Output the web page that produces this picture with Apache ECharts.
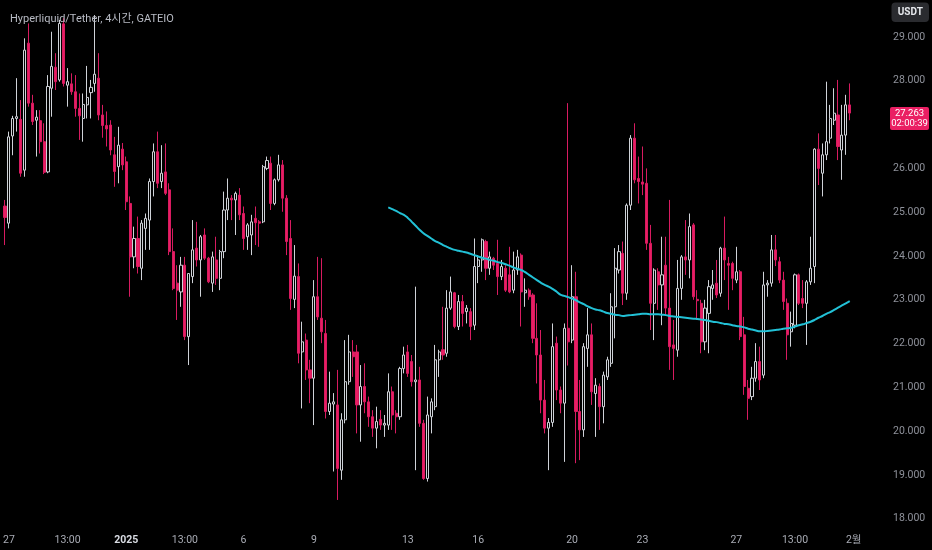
<!DOCTYPE html>
<html><head><meta charset="utf-8">
<script src="https://cdn.jsdelivr.net/npm/echarts@6/dist/echarts.min.js"></script>
<style>html,body{margin:0;padding:0;background:#000;}#c{width:932px;height:550px;}</style>
</head><body><div id="c"></div>
<script>
// ---- data (4h candles, first = 2024-12-26 21:00 KST) ----
const startUTC = Date.UTC(2024, 11, 26, 21, 0);
const slotCount = 225; // candles + empty right margin slots
const openV = [25.14,24.75,26.74,27.14,27.12,25.96,28.86,27.49,27.10,27.09,26.61,25.92,27.83,28.31,28.02,29.30,27.90,27.93,27.75,27.37,27.14,27.45,27.73,27.94,28.06,27.22,26.98,26.99,26.31,26.04,26.44,
26.15,25.20,23.98,24.40,23.72,24.63,24.82,25.70,26.38,25.70,25.92,25.51,24.10,23.38,23.18,23.79,22.16,23.53,24.18,23.91,24.48,23.95,23.38,23.91,23.49,24.10,25.05,25.32,25.28,25.39,
24.97,24.44,24.48,24.86,24.78,24.78,26.00,26.12,25.20,25.74,26.08,25.32,24.40,23.01,23.53,21.81,22.08,21.40,21.21,23.07,22.58,22.23,20.45,20.62,20.60,19.11,20.26,21.13,21.81,21.81,
20.60,21.02,20.67,20.33,20.07,20.27,20.14,20.14,20.90,20.41,20.33,21.43,21.81,21.59,21.13,21.17,20.18,18.92,20.33,20.56,21.63,21.86,21.78,22.81,23.16,22.39,22.96,22.73,22.73,22.42,
23.76,23.91,24.33,23.72,23.95,23.83,23.53,23.72,23.57,23.22,23.68,24.02,23.16,23.22,23.11,22.12,21.74,20.71,20.07,20.20,22.01,20.94,20.64,22.35,22.08,23.07,20.45,20.03,21.89,22.20,
20.86,21.02,20.56,21.24,21.55,22.84,23.68,24.06,23.15,25.16,26.69,25.77,25.69,25.66,24.29,22.92,23.64,23.34,23.79,22.81,21.97,21.85,23.26,23.98,23.91,24.71,23.01,22.92,22.04,22.69,
23.26,23.38,23.15,24.18,23.83,23.83,23.45,23.64,22.20,20.98,20.79,21.21,21.59,21.28,23.34,23.38,24.14,23.87,23.45,22.92,22.27,22.42,23.57,23.03,22.92,23.41,23.76,26.44,25.89,26.31,
26.69,27.10,27.22,26.42,26.76,27.45];
const highV = [25.28,26.84,27.20,28.06,27.56,28.97,29.31,27.68,27.33,27.33,27.03,28.13,29.12,28.63,29.39,29.43,28.29,28.17,28.13,27.71,27.71,28.34,28.02,29.50,28.63,27.45,27.30,27.10,26.72,26.95,26.58,
26.27,25.36,24.67,24.90,24.82,24.97,25.77,26.57,26.84,26.53,26.57,25.66,24.63,23.79,23.98,23.98,23.60,24.82,24.78,24.48,24.63,23.98,24.10,24.44,24.14,25.47,25.77,25.39,25.47,25.55,
25.13,24.75,24.94,25.13,24.82,26.08,26.27,26.27,25.77,26.31,26.19,25.39,24.82,24.25,23.83,22.50,22.23,21.63,23.45,23.98,23.95,22.54,21.36,20.87,21.40,20.41,22.08,22.20,22.08,21.97,
21.51,21.55,20.79,20.48,20.56,20.48,20.37,21.32,21.02,20.48,21.47,21.93,21.97,21.74,23.30,21.47,20.26,20.79,20.75,21.97,21.86,22.84,23.22,23.53,23.18,23.11,23.11,22.88,22.81,24.40,
24.02,24.40,24.37,24.10,23.98,24.37,23.91,23.79,24.21,24.10,24.14,24.06,23.49,23.26,23.15,22.92,22.31,21.17,20.30,22.46,22.16,21.02,22.46,27.49,23.79,23.64,21.17,22.01,22.81,22.46,
21.21,21.09,21.36,21.70,23.15,24.18,24.25,24.33,25.20,26.76,27.03,26.27,26.50,26.00,24.71,23.72,23.72,24.44,24.44,25.28,22.54,23.91,24.02,24.82,24.97,24.75,23.22,23.00,23.00,23.45,
23.68,23.91,24.21,24.90,23.98,23.87,24.21,23.68,22.61,21.17,21.47,22.01,21.93,23.64,23.45,24.48,24.48,23.98,23.64,23.03,22.73,23.60,23.60,23.45,23.45,24.44,26.46,26.80,26.57,27.98,
27.45,27.83,28.02,27.45,27.68,27.94];
const lowV = [24.25,24.63,26.30,26.84,25.81,25.81,27.41,26.99,26.27,26.34,25.87,25.89,27.18,27.79,27.98,27.87,27.41,27.68,27.18,26.65,26.61,27.14,27.14,27.75,27.10,26.70,26.50,26.30,25.58,25.66,25.96,
25.05,23.07,23.72,23.60,23.45,24.14,24.14,25.36,25.55,25.55,25.39,24.02,23.22,22.54,22.84,22.08,21.51,23.38,23.76,23.07,23.91,23.38,23.18,23.34,23.22,23.95,24.82,24.82,24.48,24.82,
24.14,24.14,24.02,24.25,24.21,24.75,25.96,25.05,25.16,25.70,25.01,24.02,22.77,22.81,21.55,20.52,21.17,20.64,20.14,22.54,22.01,20.29,20.37,19.08,18.43,18.89,20.18,21.06,21.24,19.95,
19.76,20.41,20.10,19.87,19.61,20.03,19.87,20.03,20.03,19.95,20.26,21.32,21.24,21.02,19.11,20.10,18.89,18.85,19.95,20.48,21.24,21.63,21.70,22.77,22.35,22.31,22.39,22.46,22.08,22.31,
23.38,23.64,23.45,23.57,23.68,23.11,23.45,23.18,23.15,23.15,23.57,22.39,22.84,23.00,22.01,21.09,20.41,19.95,19.11,20.10,20.71,20.41,19.30,21.50,22.01,19.27,19.34,19.87,21.47,20.60,
19.87,20.03,20.18,21.17,21.47,22.12,23.60,22.88,23.00,25.05,25.66,25.20,25.39,24.14,22.31,22.08,22.77,22.42,22.65,21.40,21.17,21.70,23.00,23.57,23.49,23.00,22.54,21.78,21.85,21.78,
23.00,23.04,23.07,23.45,22.77,23.22,23.38,22.08,20.83,20.26,20.71,21.13,20.94,21.21,23.07,23.30,23.77,23.38,22.77,21.63,21.93,22.35,22.88,22.81,21.97,23.34,23.38,25.62,25.36,26.19,
26.57,26.99,26.19,25.74,26.31,27.10];
const closeV = [24.88,26.72,27.14,27.18,25.89,28.70,27.49,27.07,27.17,26.61,25.91,27.87,28.33,27.98,29.31,27.94,27.98,27.75,27.37,27.20,27.46,27.62,27.85,28.15,27.22,26.98,26.90,26.42,25.93,26.53,26.08,
25.24,23.98,24.40,23.76,24.75,24.86,25.70,26.38,25.66,25.89,25.43,24.10,23.26,23.22,23.79,22.16,23.60,24.14,23.91,24.44,23.95,23.41,23.98,23.49,24.10,25.05,25.32,25.28,25.43,24.94,
24.40,24.71,24.78,24.76,24.75,26.04,26.18,25.20,25.74,26.08,25.32,24.33,23.03,23.54,21.78,22.04,21.40,21.21,23.07,22.61,22.27,20.45,20.64,20.67,19.15,20.26,21.13,21.81,21.70,20.60,
21.02,20.67,20.33,20.07,20.22,20.14,20.18,20.90,20.37,20.33,21.43,21.74,21.32,21.13,21.17,20.18,18.92,20.37,20.67,21.63,21.81,21.74,22.81,23.18,22.39,22.96,22.69,22.81,22.39,23.76,
23.91,24.37,23.72,23.98,23.79,23.53,23.76,23.22,23.18,23.68,23.98,23.18,23.22,23.07,22.12,21.74,20.71,20.07,20.20,21.93,20.94,20.64,22.35,22.04,23.07,20.45,20.03,21.93,22.20,20.90,
21.05,20.56,21.28,21.63,22.84,23.72,24.10,23.15,25.16,26.69,25.74,25.70,25.64,24.29,22.92,23.68,23.34,23.57,22.81,21.93,21.89,23.26,23.98,23.91,24.67,23.07,22.98,22.04,22.81,23.30,
23.34,23.11,24.18,23.91,23.79,23.49,23.64,22.16,21.02,20.75,21.21,21.59,21.17,23.34,23.38,24.14,23.91,23.45,22.96,22.20,22.46,23.57,22.92,22.92,23.41,23.72,26.44,26.00,26.31,26.61,
27.14,27.26,26.50,26.76,27.45,27.263];
// moving average line, starts at candle index maStart
const maStart = 98;
const maValues = [25.11,25.07,25.03,24.98,24.94,24.87,24.78,24.69,24.60,24.52,24.46,24.40,24.34,24.30,24.25,24.21,24.17,24.14,24.12,24.10,24.08,24.05,
24.02,23.99,23.96,23.94,23.91,23.89,23.86,23.84,23.81,23.78,23.74,23.71,23.68,23.63,23.57,23.51,23.45,23.39,23.34,23.30,23.25,23.19,23.12,23.09,23.06,23.03,
22.99,22.94,22.90,22.85,22.81,22.78,22.76,22.73,22.70,22.68,22.66,22.65,22.63,22.64,22.65,22.66,22.67,22.68,22.68,22.67,22.67,22.67,22.66,22.65,22.63,22.62,
22.61,22.60,22.59,22.58,22.57,22.56,22.55,22.54,22.52,22.50,22.49,22.47,22.45,22.44,22.42,22.40,22.39,22.37,22.34,22.32,22.30,22.28,22.28,22.29,22.30,22.31,
22.32,22.34,22.35,22.36,22.39,22.42,22.44,22.47,22.50,22.54,22.59,22.63,22.68,22.72,22.77,22.82,22.87,22.92,22.97];
const tickLabels = [
  ['2024-12-27 01:00','27'], ['2024-12-29 13:00','13:00'], ['2025-01-01 01:00','2025'], ['2025-01-03 13:00','13:00'],
  ['2025-01-06 01:00','6'], ['2025-01-09 01:00','9'], ['2025-01-13 01:00','13'], ['2025-01-16 01:00','16'],
  ['2025-01-20 01:00','20'], ['2025-01-23 01:00','23'], ['2025-01-27 01:00','27'], ['2025-01-29 13:00','13:00'],
  ['2025-02-01 01:00','2월']
];
const yMin = 18, yMax = 29, yStep = 1;
const titleText = 'Hyperliquid/Tether, 4시간, GATEIO';
const countdownText = '02:00:39';

// ---- build ----
function pad(n){return (n<10?'0':'')+n;}
const categories = [];
for (let i = 0; i < slotCount; i++) {
  const d = new Date(startUTC + i * 4 * 3600 * 1000);
  categories.push(d.getUTCFullYear()+'-'+pad(d.getUTCMonth()+1)+'-'+pad(d.getUTCDate())+' '+pad(d.getUTCHours())+':'+pad(d.getUTCMinutes()));
}
const labelMap = {};
tickLabels.forEach(t => labelMap[t[0]] = t[1]);
const candleData = openV.map((o, i) => [o, closeV[i], lowV[i], highV[i]]);
const maData = categories.map((c, i) => (i >= maStart && i - maStart < maValues.length) ? maValues[i - maStart] : null);

const FONT = 'Roboto, "Noto Sans CJK KR", "Liberation Sans", sans-serif';
const chart = echarts.init(document.getElementById('c'), null, {renderer: 'canvas'});
chart.setOption({
  backgroundColor: '#000000',
  animation: false,
  title: {text: titleText, left: 5, top: 9, textStyle: {color: '#b8bbc4', fontSize: 11, fontWeight: 'normal', fontFamily: FONT}},
  grid: {left: -1, right: 49, top: 37, bottom: 31.2},
  xAxis: {
    type: 'category', data: categories, boundaryGap: true,
    axisLine: {show: false}, axisTick: {show: false}, splitLine: {show: false},
    axisLabel: {
      color: '#a9acb5', fontSize: 10.5, fontFamily: FONT, margin: 16, hideOverlap: false,
      interval: (idx, val) => labelMap[val] !== undefined,
      formatter: (val) => labelMap[val] === '2025' ? '{b|2025}' : (labelMap[val] || ''),
      rich: {b: {color: '#d8dbe2', fontWeight: 'bold', fontSize: 10.5, fontFamily: FONT}}
    }
  },
  yAxis: {
    type: 'value', position: 'right', min: yMin, max: yMax, interval: yStep, scale: true,
    axisLine: {show: false}, axisTick: {show: false}, splitLine: {show: false},
    axisLabel: {color: '#8f929b', fontSize: 10.5, fontFamily: FONT, margin: 10, formatter: v => v.toFixed(3)}
  },
  series: [
    {
      type: 'candlestick', data: candleData, clip: false, barWidth: 2.6,
      itemStyle: {color: '#000000', borderColor: '#cfd2d8', color0: '#e91e63', borderColor0: '#d81b60', borderWidth: 1}
    },
    {
      type: 'line', data: maData, showSymbol: false, smooth: true, connectNulls: false,
      lineStyle: {color: '#22c1d6', width: 2}, z: 5
    }
  ]
});

const lastClose = closeV[closeV.length - 1];
const py = chart.convertToPixel({yAxisIndex: 0}, lastClose);
chart.setOption({
  graphic: [
    {type: 'rect', z: 100, shape: {x: 890, y: py - 6, width: 39, height: 23, r: 2}, style: {fill: '#ea1f63'}},
    {type: 'text', z: 101, style: {text: lastClose.toFixed(3), x: 909.5, y: py + 0.5, fill: '#ffffff', font: '9.5px ' + FONT, align: 'center', verticalAlign: 'middle'}},
    {type: 'text', z: 101, style: {text: countdownText, x: 909.5, y: py + 11, fill: '#ffffff', font: '9.5px ' + FONT, align: 'center', verticalAlign: 'middle'}},
    {type: 'rect', z: 100, shape: {x: 891.5, y: 2.5, width: 37.5, height: 19.5, r: 4}, style: {fill: '#2a2b2f'}},
    {type: 'text', z: 101, style: {text: 'USDT', x: 910.3, y: 12.5, fill: '#e6e8ec', font: 'bold 10px ' + FONT, align: 'center', verticalAlign: 'middle'}}
  ]
});
</script>
</body></html>
